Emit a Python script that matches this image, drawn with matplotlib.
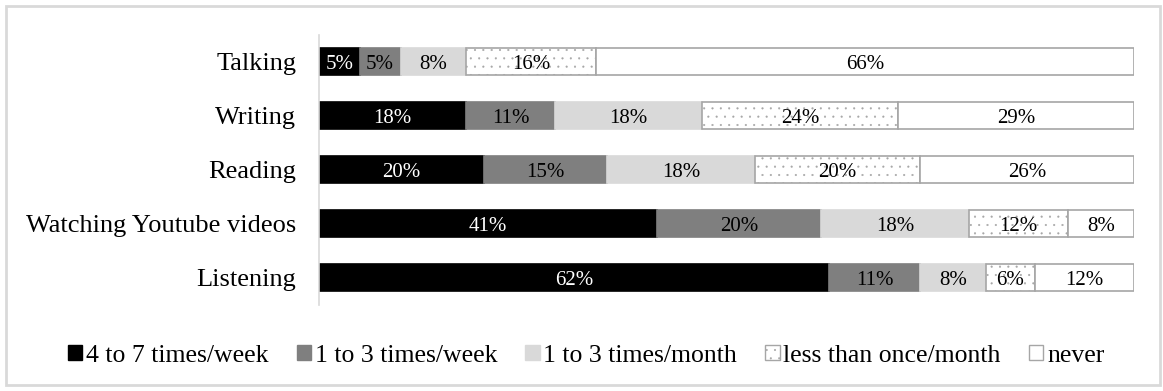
import matplotlib.pyplot as plt
import numpy as np
from matplotlib.patches import Rectangle, Patch

plt.rcParams['font.family'] = ['Liberation Serif', 'DejaVu Serif']
plt.rcParams['hatch.linewidth'] = 0.3

activities = ['Talking', 'Writing', 'Reading', 'Watching Youtube videos', 'Listening']
frequencies = ['4 to 7 times/week', '1 to 3 times/week', '1 to 3 times/month',
               'less than once/month', 'never']
# percent of respondents per activity, one list per frequency
weekly_often = [5, 18, 20, 41, 62]
weekly_some = [5, 11, 15, 20, 11]
monthly_some = [8, 18, 18, 18, 8]
monthly_less = [16, 24, 20, 12, 6]
never = [66, 29, 26, 8, 12]

series = [weekly_often, weekly_some, monthly_some, monthly_less, never]
facecolors = ['#000000', '#7f7f7f', '#d9d9d9', '#ffffff', '#ffffff']
edgecolors = ['#000000', '#7f7f7f', '#d9d9d9', '#a6a6a6', '#a6a6a6']
hatches = [None, None, None, '..', None]
textcolors = ['white', 'black', 'black', 'black', 'black']

fig = plt.figure(figsize=(11.63, 3.91), dpi=100)
ax = fig.add_axes([0.2743, 0.22, 0.7008, 0.6905])

values = np.array(series, dtype=float)
# each row is a 100% stacked bar, so scale the rounded labels to fill it
widths = values / values.sum(axis=0) * 100
y = np.arange(len(activities))
left = np.zeros(len(activities))
for i, w in enumerate(widths):
    ax.barh(y, w, left=left, height=0.5, color=facecolors[i],
            edgecolor=edgecolors[i], hatch=hatches[i], linewidth=1.2)
    for j in range(len(activities)):
        ax.text(left[j] + w[j] / 2, y[j], f'{int(values[i][j])}%',
                ha='center', va='center_baseline', fontsize=15, color=textcolors[i])
    left += w

ax.set_xlim(0, 100)
ax.set_ylim(len(activities) - 0.5, -0.5)
ax.set_yticks(y)
ax.set_yticklabels(activities, fontsize=19)
ax.tick_params(axis='y', length=0, pad=16.5)
ax.set_xticks([])
for side in ['top', 'right', 'bottom']:
    ax.spines[side].set_visible(False)
ax.spines['left'].set_color('#d9d9d9')
ax.spines['left'].set_linewidth(1.2)

handles = [Patch(facecolor=facecolors[i], edgecolor=edgecolors[i], hatch=hatches[i],
                 linewidth=1) for i in range(len(frequencies))]
fig.legend(handles, frequencies, loc='center', bbox_to_anchor=(0.504, 0.09),
           ncol=5, frameon=False, fontsize=18.5, handlelength=0.55, handleheight=0.55,
           handletextpad=0.15, columnspacing=1.1)

fig.patches.append(Rectangle((6 / 1163, 6 / 391), 1154 / 1163, 379 / 391,
                             transform=fig.transFigure, fill=False,
                             edgecolor='#d9d9d9', linewidth=2))

fig.savefig('out.png', dpi=100)
